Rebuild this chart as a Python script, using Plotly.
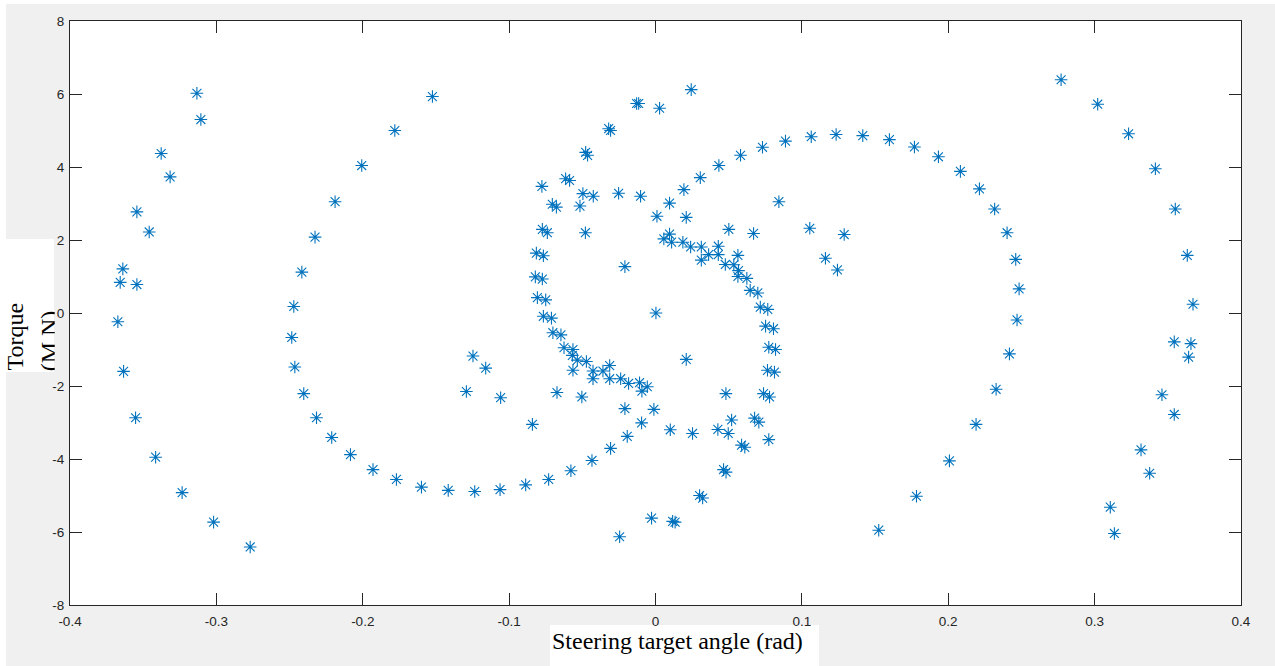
import plotly.graph_objects as go

# ---------------- data ----------------
# outer spiral arms
outer_left_x = [-0.3133, -0.3106, -0.3377, -0.3316, -0.3543, -0.3459, -0.3639, -0.3657, -0.3543,
                -0.3673, -0.3634, -0.3552, -0.3415, -0.3234, -0.3019, -0.2769]
outer_left_y = [6.02, 5.30, 4.37, 3.73, 2.77, 2.22, 1.21, 0.84, 0.78,
                -0.24, -1.60, -2.87, -3.95, -4.92, -5.73, -6.41]

outer_right_x = [0.2771, 0.3021, 0.3232, 0.3415, 0.3551, 0.3633, 0.3672, 0.3544, 0.3658,
                 0.3642, 0.3460, 0.3544, 0.3317, 0.3376, 0.3107, 0.3135]
outer_right_y = [6.39, 5.72, 4.91, 3.95, 2.85, 1.58, 0.24, -0.79, -0.84,
                 -1.21, -2.24, -2.78, -3.75, -4.39, -5.32, -6.04]

# middle spiral arms
middle_left_x = [-0.1524, -0.1781, -0.2007, -0.2189, -0.2326, -0.2416, -0.2471, -0.2485, -0.2464,
                 -0.2403, -0.2316, -0.2212, -0.2084, -0.1930, -0.1770, -0.1599, -0.1416, -0.1235,
                 -0.1062, -0.0887, -0.0730, -0.0578, -0.0434, -0.0307, -0.0193, -0.0095, -0.0011]
middle_left_y = [5.93, 5.00, 4.04, 3.05, 2.08, 1.12, 0.18, -0.67, -1.48,
                 -2.21, -2.87, -3.41, -3.88, -4.29, -4.56, -4.77, -4.86, -4.89,
                 -4.84, -4.71, -4.56, -4.32, -4.04, -3.71, -3.38, -3.01, -2.64]

middle_right_x = [0.1525, 0.1783, 0.2008, 0.2190, 0.2327, 0.2418, 0.2470, 0.2484, 0.2461,
                  0.2402, 0.2317, 0.2213, 0.2083, 0.1933, 0.1769, 0.1598, 0.1416, 0.1234,
                  0.1064, 0.0888, 0.0731, 0.0581, 0.0433, 0.0306, 0.0194, 0.0096, 0.0010]
middle_right_y = [-5.95, -5.02, -4.05, -3.05, -2.09, -1.12, -0.19, 0.66, 1.47,
                  2.20, 2.85, 3.40, 3.88, 4.28, 4.55, 4.75, 4.86, 4.89,
                  4.83, 4.71, 4.54, 4.32, 4.04, 3.71, 3.38, 3.01, 2.65]

# inner cluster, left half
inner_left_x = [-0.0129, -0.0115, -0.0320, -0.0307, -0.0477, -0.0464, -0.0614, -0.0587,
                -0.0776, -0.0496, -0.0425, -0.0252, -0.0102, -0.0705, -0.0677, -0.0516,
                -0.0773, -0.0739, -0.0479, -0.0814, -0.0766, -0.0209, -0.0821, -0.0773,
                -0.0807, -0.0750, -0.0766, -0.0711, 0.0003,
                -0.0701, -0.0646, -0.0625, -0.0564, -0.0568, -0.0534, -0.0472, -0.0313,
                -0.0427, -0.0359, -0.0564, -0.0427, -0.0313, -0.0238, -0.0184, -0.0109,
                -0.0093, -0.0056, -0.1247, -0.1160, -0.1292, -0.1058, -0.0673, -0.0503,
                -0.0209, -0.0841, -0.0027, -0.0245]
inner_left_y = [5.74, 5.74, 5.05, 5.00, 4.40, 4.32, 3.68, 3.63,
                3.47, 3.27, 3.20, 3.28, 3.20, 2.98, 2.90, 2.93,
                2.29, 2.20, 2.20, 1.64, 1.57, 1.27, 0.99, 0.93,
                0.42, 0.36, -0.09, -0.14, 0.00,
                -0.54, -0.60, -0.95, -1.00, -1.16, -1.29, -1.33, -1.44,
                -1.59, -1.59, -1.57, -1.80, -1.80, -1.80, -1.93, -1.91,
                -2.14, -2.02, -1.18, -1.51, -2.15, -2.32, -2.18, -2.30,
                -2.62, -3.05, -5.62, -6.13]

# inner cluster, right half
inner_right_x = [0.0244, 0.0028, 0.0843, 0.0210, 0.0501, 0.0670, 0.1054, 0.1289,
                 0.0096, 0.0057, 0.0110, 0.0187, 0.0240, 0.0313, 0.0429, 0.0363,
                 0.0429, 0.0563, 0.0313, 0.1161, 0.1243, 0.0477, 0.0535, 0.0567,
                 0.0563, 0.0624, 0.0647, 0.0699, 0.0716, 0.0767,
                 0.0752, 0.0806, 0.0774, 0.0820, 0.0765, 0.0813, 0.0738, 0.0779,
                 0.0210, 0.0481, 0.0101, 0.0253, 0.0426, 0.0497, 0.0520, 0.0677,
                 0.0706, 0.0774, 0.0588, 0.0610, 0.0465, 0.0482, 0.0301, 0.0322,
                 0.0117, 0.0134]
inner_right_y = [6.12, 5.61, 3.05, 2.62, 2.29, 2.18, 2.32, 2.15,
                 2.16, 2.03, 1.94, 1.94, 1.81, 1.81, 1.83, 1.60,
                 1.60, 1.58, 1.45, 1.50, 1.18, 1.33, 1.32, 1.16,
                 1.00, 0.95, 0.62, 0.55, 0.16, 0.10,
                 -0.36, -0.43, -0.94, -1.00, -1.57, -1.62, -2.21, -2.30,
                 -1.27, -2.21, -3.20, -3.30, -3.19, -3.30, -2.93, -2.88,
                 -2.99, -3.47, -3.62, -3.68, -4.29, -4.36, -5.00, -5.07,
                 -5.71, -5.73]

x_tick_vals = [-0.4, -0.3, -0.2, -0.1, 0, 0.1, 0.2, 0.3, 0.4]
x_tick_text = ["-0.4", "-0.3", "-0.2", "-0.1", "0", "0.1", "0.2", "0.3", "0.4"]
y_tick_vals = [-8, -6, -4, -2, 0, 2, 4, 6, 8]
y_tick_text = ["-8", "-6", "-4", "-2", "0", "2", "4", "6", "8"]

x_label = "Steering target angle (rad)"
y_label_line1 = "Torque"
y_label_line2 = "(M N)"

# ---------------- figure ----------------
W, H = 1275, 666
ML, MR, MT, MB = 70, 34, 21, 61
PW, PH = W - ML - MR, H - MT - MB


def fx(px):
    return (px - ML) / PW


def fy(py):
    return (H - MB - py) / PH


MARK = dict(symbol="asterisk-open", size=10.5, color="#0072BD",
            line=dict(color="#0072BD", width=1.1))

fig = go.Figure()
for xs, ys in [(outer_left_x, outer_left_y), (outer_right_x, outer_right_y),
               (middle_left_x, middle_left_y), (middle_right_x, middle_right_y),
               (inner_left_x, inner_left_y), (inner_right_x, inner_right_y)]:
    fig.add_trace(go.Scatter(x=xs, y=ys, mode="markers", marker=MARK,
                             showlegend=False, hoverinfo="x+y"))

axis_common = dict(showgrid=False, zeroline=False, showline=True, linecolor="#262626",
                   linewidth=1, mirror="ticks", ticks="inside", ticklen=12,
                   tickwidth=1, tickcolor="#262626",
                   tickfont=dict(family="Liberation Sans, Arial, sans-serif",
                                 size=13.5, color="#262626"))

fig.update_xaxes(range=[-0.4, 0.4], tickvals=x_tick_vals, ticktext=x_tick_text,
                 ticklabelstandoff=4, **axis_common)
fig.update_yaxes(range=[-8, 8], tickvals=y_tick_vals, ticktext=y_tick_text,
                 ticklabelstandoff=2, **axis_common)

white_boxes = [
    (0, 6, 0, 666),      # left white edge
    (0, 1275, 0, 4),     # top white edge
    (0, 54, 239, 372),   # y-label box
    (550, 819, 625, 667),  # x-label box
]
shapes = []
for x0, x1, y0, y1 in white_boxes:
    shapes.append(dict(type="rect", xref="paper", yref="paper",
                       x0=fx(x0), x1=fx(x1), y0=fy(y1), y1=fy(y0),
                       fillcolor="white", line=dict(width=0), layer="below"))

serif = dict(family="Liberation Serif, Times New Roman, serif", size=24, color="black")
annotations = [
    dict(text=x_label, x=fx(677.5), y=fy(641), xref="paper", yref="paper",
         xanchor="center", yanchor="middle", showarrow=False, font=serif),
    dict(text=y_label_line1, x=fx(14), y=fy(336.5), xref="paper", yref="paper",
         xanchor="center", yanchor="middle", showarrow=False, font=serif,
         textangle=-90),
    dict(text=y_label_line2, x=fx(44.8), y=fy(340.5), xref="paper", yref="paper",
         xanchor="center", yanchor="middle", showarrow=False, font=serif,
         textangle=-90, height=18.4, valign="top", borderpad=0, borderwidth=0),
]

fig.update_layout(width=W, height=H, autosize=False,
                  margin=dict(l=ML, r=MR, t=MT, b=MB, pad=0),
                  paper_bgcolor="#f0f0f0", plot_bgcolor="white",
                  shapes=shapes, annotations=annotations)

fig.write_html("out.html", config={"displayModeBar": False},
               post_script="document.body.style.margin='0';"
                           "document.body.style.overflow='hidden';")
